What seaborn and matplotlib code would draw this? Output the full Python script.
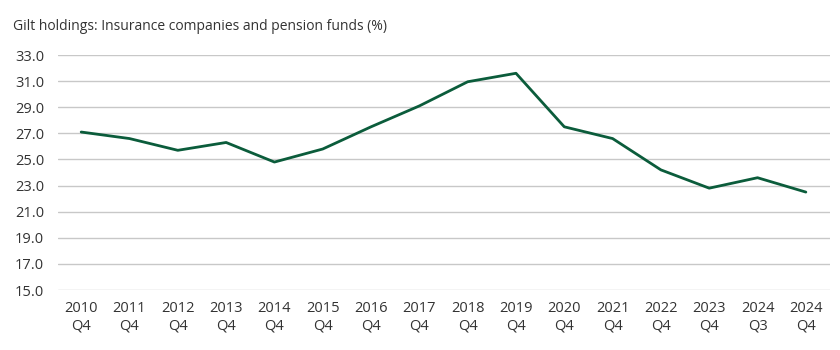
import matplotlib.pyplot as plt
import pandas as pd
import seaborn as sns

# 数据
periods = ["2010\nQ4", "2011\nQ4", "2012\nQ4", "2013\nQ4", "2014\nQ4", "2015\nQ4",
           "2016\nQ4", "2017\nQ4", "2018\nQ4", "2019\nQ4", "2020\nQ4", "2021\nQ4",
           "2022\nQ4", "2023\nQ4", "2024\nQ3", "2024\nQ4"]
holdings = [27.1, 26.6, 25.7, 26.3, 24.8, 25.8, 27.5, 29.1,
            30.95, 31.6, 27.5, 26.6, 24.2, 22.8, 23.6, 22.5]
y_ticks = [15.0, 17.0, 19.0, 21.0, 23.0, 25.0, 27.0, 29.0, 31.0, 33.0]

df = pd.DataFrame({"pos": range(len(periods)), "period": periods, "value": holdings})

sns.set_theme(style="whitegrid")
plt.rcParams["font.family"] = ["Open Sans", "DejaVu Sans"]

text_color = "#333333"

fig = plt.figure(figsize=(8.4, 3.5), dpi=100)
ax = fig.add_axes([58 / 840, 60 / 350, 772 / 840, 235 / 350])

sns.lineplot(data=df, x="pos", y="value", color="#0b5c3b", linewidth=2, ax=ax)

ax.set_xlim(-0.48, 15.5)
ax.set_ylim(15, 33)
ax.set_xticks(df["pos"])
ax.set_xticklabels(periods, fontsize=10.5, color=text_color)
ax.set_yticks(y_ticks)
ax.set_yticklabels([f"{v:.1f}" for v in y_ticks], fontsize=10.5, color=text_color)
ax.set_xlabel("")
ax.set_ylabel("")
ax.grid(axis="x", visible=False)
ax.grid(axis="y", color="#c8c8c8", linewidth=1)
ax.tick_params(axis="both", length=0)
ax.tick_params(axis="x", pad=8)
ax.tick_params(axis="y", pad=10)
for s in ax.spines.values():
    s.set_visible(False)

fig.text(13 / 840, 1 - 27 / 350, "Gilt holdings: Insurance companies and pension funds (%)",
         fontsize=10, color=text_color, ha="left", va="center")

fig.savefig("out.png", dpi=100, facecolor="white")
plt.close(fig)
